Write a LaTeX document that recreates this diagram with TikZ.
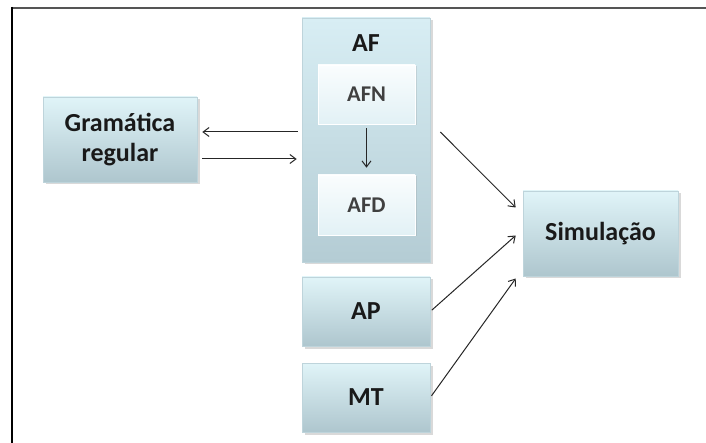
\documentclass[tikz,border=0pt]{standalone}
\usepackage{fontspec}
\setmainfont{Carlito}
\usetikzlibrary{arrows.meta,positioning,shadows}
\definecolor{boxTop}{RGB}{224,244,248}
\definecolor{boxBot}{RGB}{174,198,206}
\definecolor{afTop}{RGB}{216,238,244}
\definecolor{afBot}{RGB}{180,204,212}
\definecolor{innerTop}{RGB}{250,253,254}
\definecolor{innerBot}{RGB}{226,241,245}
\definecolor{boxEdge}{RGB}{190,212,219}
\definecolor{frameGray}{RGB}{85,85,85}

\begin{document}
\begin{tikzpicture}[x=1pt,y=-1pt,
    caixa/.style={draw=boxEdge, line width=0.6pt, top color=boxTop, bottom color=boxBot,
      drop shadow={shadow xshift=2.5pt, shadow yshift=-2.5pt, opacity=0.3},
      align=center, text=black!90, font=\bfseries\fontsize{26}{30}\selectfont},
    interna/.style={draw=white, line width=0.6pt, top color=innerTop, bottom color=innerBot,
      drop shadow={shadow xshift=1.5pt, shadow yshift=-1.5pt, opacity=0.2},
      text=black!75, font=\bfseries\fontsize{22.5}{27}\selectfont},
    seta/.style={-{Straight Barb[length=6pt,width=9pt]}, line width=1pt, black!85}]
    \useasboundingbox (0,0) rectangle (706,443);
    % moldura
    \draw[frameGray, line width=2pt] (11,8) -- (706,8);
    \draw[black, line width=1.5pt] (12,7) -- (12,443);
    % caixas
    \node[caixa, minimum width=154pt, minimum height=85pt] (gram) at (120,139.5) {Gramática\\regular};
    \node[caixa, top color=afTop, bottom color=afBot, minimum width=128pt, minimum height=244pt] (af) at (366,140) {};
    \node[font=\bfseries\fontsize{26}{30}\selectfont, text=black!90] (aflabel) at (366,43) {AF};
    \node[interna, minimum width=97pt, minimum height=59pt] (afn) at (366.5,94.5) {AFN};
    \node[interna, minimum width=97pt, minimum height=60pt] (afd) at (366.5,205) {AFD};
    \node[caixa, minimum width=128pt, minimum height=69pt] (ap) at (366,311.5) {AP};
    \node[caixa, minimum width=128pt, minimum height=69pt] (mt) at (366,397.5) {MT};
    \node[caixa, minimum width=155pt, minimum height=85pt] (sim) at (600.5,233.5) {Simulação};
    % setas
    \draw[seta, shorten <=4pt, shorten >=5pt] ([yshift=8pt]af.west) -- ([yshift=8pt]af.west -| gram.east);
    \draw[seta, shorten <=5pt, shorten >=5pt] ([yshift=-19pt]af.west -| gram.east) -- ([yshift=-19pt]af.west);
    \draw[seta, shorten <=4pt, shorten >=7pt] (afn) -- (afd);
    \draw[seta] ([shift={(10pt,8pt)}]af.east) -- ([shift={(-7pt,26pt)}]sim.west);
    \draw[seta, shorten <=2pt] (ap.east) -- ([shift={(-7pt,-2pt)}]sim.west);
    \draw[seta, shorten <=2pt] (mt.east) -- ([shift={(-7pt,-45pt)}]sim.west);
\end{tikzpicture}
\end{document}
